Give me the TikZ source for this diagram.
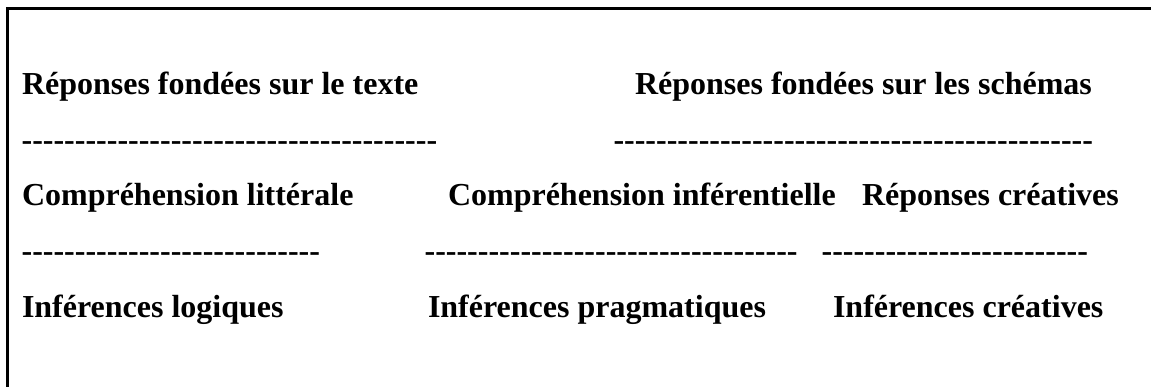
\documentclass[tikz,border=0pt]{standalone}
\usepackage{fontspec}
\setmainfont{Liberation Serif}
\newcommand\hyphenrow[1]{\foreach \k in {1,...,#1}{-}\kern0pt\relax}
\tikzset{
  lbl/.style={anchor=base west, inner sep=0pt, outer sep=0pt,
    font=\fontsize{32pt}{38pt}\selectfont\bfseries},
  frame/.style={line width=2.4pt, line cap=rect}
}
\begin{document}
\begin{tikzpicture}[x=1pt,y=1pt]
\useasboundingbox (0,0) rectangle (1151,-387);
% open frame (left and top edges)
\coordinate (fb) at (7.5,-390);
\coordinate (fc) at (7.5,-8.5);
\coordinate (fr) at (1155,-8.5);
\draw[frame] (fb) -- (fc) -- (fr);
% row 1
\node[lbl] (t1) at (22,-95) {Réponses fondées sur le texte};
\node[lbl] (t2) at (635,-95) {Réponses fondées sur les schémas};
% row 2
\node[lbl] (d1) at (21.6,-150.5) {\hyphenrow{39}};
\node[lbl] (d2) at (613.5,-150.5) {\hyphenrow{45}};
% row 3
\node[lbl] (c1) at (22,-206) {Compréhension littérale};
\node[lbl] (c2) at (448,-206) {Compréhension inférentielle};
\node[lbl] (c3) at (862,-206) {Réponses créatives};
% row 4
\node[lbl] (d3) at (21.6,-261.5) {\hyphenrow{28}};
\node[lbl] (d4) at (424.6,-261.5) {\hyphenrow{35}};
\node[lbl] (d5) at (821.6,-261.5) {\hyphenrow{25}};
% row 5
\node[lbl] (i1) at (22,-317) {Inférences logiques};
\node[lbl] (i2) at (428,-317) {Inférences pragmatiques};
\node[lbl] (i3) at (833,-317) {Inférences créatives};
\end{tikzpicture}
\end{document}
